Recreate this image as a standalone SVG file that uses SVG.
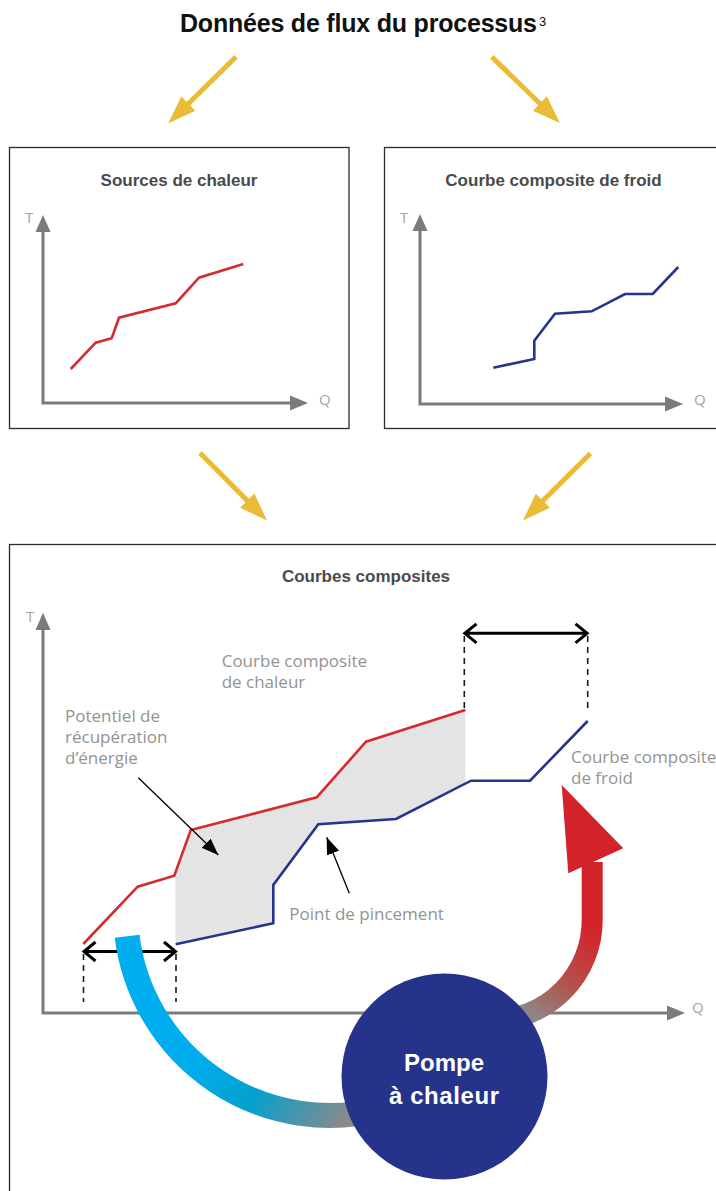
<svg xmlns="http://www.w3.org/2000/svg" width="716" height="1191" viewBox="0 0 716 1191">
<style>
.box{fill:#fff;stroke:#2b2b2b;stroke-width:1.3}
.axis{fill:none;stroke:#7b7b7d;stroke-width:3;stroke-linejoin:miter}
.axhead{fill:#7b7b7d}
.axlbl{font-family:"Open Sans","Liberation Sans",sans-serif;font-size:15px;fill:#a3a3a3}
.hot{fill:none;stroke:#D52B2E;stroke-width:2.6;stroke-linejoin:miter}
.cold{fill:none;stroke:#25348C;stroke-width:2.6;stroke-linejoin:miter}
.btitle{font-family:"Liberation Sans",Arial,sans-serif;font-weight:700;font-size:17px;fill:#4a4a4c;text-anchor:middle}
.lbl{font-family:"Open Sans","Liberation Sans",sans-serif;font-size:17px;fill:#939393}
.dash{stroke:#1a1a1a;stroke-width:1.6;stroke-dasharray:6 5;fill:none}
.dbl{stroke:#000;stroke-width:3;fill:none;stroke-linejoin:miter}
.lead{stroke:#000;stroke-width:1.3;fill:none}
</style>
<defs>
<g id="yarrow">
<line x1="-95" y1="0" x2="-18" y2="0" stroke="#E9BB36" stroke-width="5"/>
<polygon points="0,0 -28,-10 -28,10" fill="#E9BB36"/>
</g>
<marker id="ptr" markerUnits="userSpaceOnUse" markerWidth="18" markerHeight="14" refX="17" refY="6.5" orient="auto">
<path d="M0,0 L17,6.5 L0,13 z" fill="#000"/>
</marker>
<linearGradient id="gBlue" gradientUnits="userSpaceOnUse" x1="200" y1="1040" x2="345" y2="1122">
<stop offset="0" stop-color="#00AEEF"/>
<stop offset="0.45" stop-color="#04A1CC"/>
<stop offset="1" stop-color="#8A8A8A"/>
</linearGradient>
<linearGradient id="gRed" gradientUnits="userSpaceOnUse" x1="528" y1="1012" x2="592" y2="928">
<stop offset="0" stop-color="#8E8686"/>
<stop offset="0.45" stop-color="#B4514A"/>
<stop offset="1" stop-color="#D3232A"/>
</linearGradient>
</defs>

<g id="title">
<text x="180" y="32" font-family="'Liberation Sans',Arial,sans-serif" font-weight="700" font-size="25" fill="#111" textLength="357">Données de flux du processus</text>
<text x="539" y="26" font-family="'Liberation Sans',Arial,sans-serif" font-size="13" fill="#111">3</text>
</g>

<g id="connectors">
<use href="#yarrow" transform="translate(168.3,123.3) rotate(135.5)"/>
<use href="#yarrow" transform="translate(560,123) rotate(44.1)"/>
<use href="#yarrow" transform="translate(267,520.5) rotate(45.2)"/>
<use href="#yarrow" transform="translate(523,520.5) rotate(135.2)"/>
</g>

<g id="sources-chaleur">
<rect class="box" x="9.5" y="147.5" width="339.5" height="281"/>
<text class="btitle" x="179" y="186">Sources de chaleur</text>
<path class="axis" d="M43,232 V403 H290"/>
<polygon class="axhead" points="43,215 35.5,232 50.5,232"/>
<polygon class="axhead" points="308,403 290,395.5 290,410.5"/>
<text class="axlbl" x="25" y="223">T</text>
<text class="axlbl" x="319" y="405" font-size="16">Q</text>
<polyline class="hot" points="70.7,369 95.7,342.7 111.7,338.3 119,317.7 175.7,303.3 199,277.7 243.3,264"/>
</g>

<g id="composite-froid">
<rect class="box" x="384.5" y="147.5" width="400" height="281"/>
<text class="btitle" x="553.5" y="186">Courbe composite de froid</text>
<path class="axis" d="M420,231 V404 H665"/>
<polygon class="axhead" points="420,214 412.5,231 427.5,231"/>
<polygon class="axhead" points="683,404 665,396.5 665,411.5"/>
<text class="axlbl" x="400" y="223">T</text>
<text class="axlbl" x="694" y="405" font-size="16">Q</text>
<polyline class="cold" points="493.3,367.7 534.3,359 534.3,340.7 555,313.7 591.7,311.3 625,294 652.7,294 678.3,267"/>
</g>

<g id="courbes-composites">
<rect class="box" x="9.5" y="544.5" width="800" height="800"/>
<text class="btitle" x="366" y="582">Courbes composites</text>
<path class="axis" d="M43,630 V1013 H667"/>
<polygon class="axhead" points="43,612.7 35.5,630 50.5,630"/>
<polygon class="axhead" points="685,1013 667,1005.5 667,1020.5"/>
<text class="axlbl" x="26" y="622">T</text>
<text class="axlbl" x="692" y="1013" font-size="17">Q</text>
<polygon fill="#E4E4E4" points="175.5,875.7 190.7,830 316.7,797.3 366,741.7 465.3,710 465.3,783.8 396,819 318.3,824.3 273.3,885 273.3,923.3 175.5,944.3"/>
<polyline class="hot" points="83.3,944 137.7,886.7 174.3,875.7 190.7,830 316.7,797.3 366,741.7 465.3,710"/>
<polyline class="cold" points="175.7,944.3 273.3,923.3 273.3,885 318.3,824.3 396,819 471,780.7 530,780.7 587.7,721"/>
</g>

<g id="dimension-marks">
<line class="dash" x1="464.3" y1="636" x2="464.3" y2="710"/>
<line class="dash" x1="587.7" y1="636" x2="587.7" y2="710"/>
<path class="dbl" d="M464.8,633.3 H587.2 M476.5,623.8 L464.8,633.3 L476.5,642.8 M575.5,623.8 L587.2,633.3 L575.5,642.8"/>
<line class="dash" x1="83.5" y1="954" x2="83.5" y2="1002"/>
<line class="dash" x1="176" y1="954" x2="176" y2="1002"/>
<path class="dbl" d="M84,951.5 H175.5 M95.5,942 L84,951.5 L95.5,961 M164,942 L175.5,951.5 L164,961"/>
</g>

<g id="labels">
<text class="lbl" x="221.7" y="667">Courbe composite</text>
<text class="lbl" x="221.7" y="688">de chaleur</text>
<text class="lbl" x="65" y="722">Potentiel de</text>
<text class="lbl" x="65" y="743">récupération</text>
<text class="lbl" x="65" y="764">d’énergie</text>
<text class="lbl" x="289.3" y="919.5">Point de pincement</text>
<text class="lbl" x="571" y="763">Courbe composite</text>
<text class="lbl" x="571" y="784">de froid</text>
<line class="lead" x1="138.3" y1="777.7" x2="218.3" y2="855" marker-end="url(#ptr)"/>
<line class="lead" x1="349.3" y1="893.3" x2="326.7" y2="837.3" marker-end="url(#ptr)"/>
</g>

<g id="flux-pompe">
<path d="M127.1,936.3 A204.5,204.5 0 0 0 382.9,1108.5" fill="none" stroke="url(#gBlue)" stroke-width="25"/>
<path d="M592.2,862 V920 A100.3,100.3 0 0 1 492,1020.3" fill="none" stroke="url(#gRed)" stroke-width="21"/>
<polygon points="561.7,785 568.3,873.3 623.3,848.3" fill="#D3232A"/>
</g>

<g id="pompe-a-chaleur">
<circle cx="444.5" cy="1076.5" r="103" fill="#25338A"/>
<text x="444" y="1071" font-family="'Liberation Sans',Arial,sans-serif" font-weight="700" font-size="24" fill="#fff" text-anchor="middle">Pompe</text>
<text x="444" y="1103.5" font-family="'Liberation Sans',Arial,sans-serif" font-weight="700" font-size="24" fill="#fff" text-anchor="middle" textLength="110">à chaleur</text>
</g>
</svg>
